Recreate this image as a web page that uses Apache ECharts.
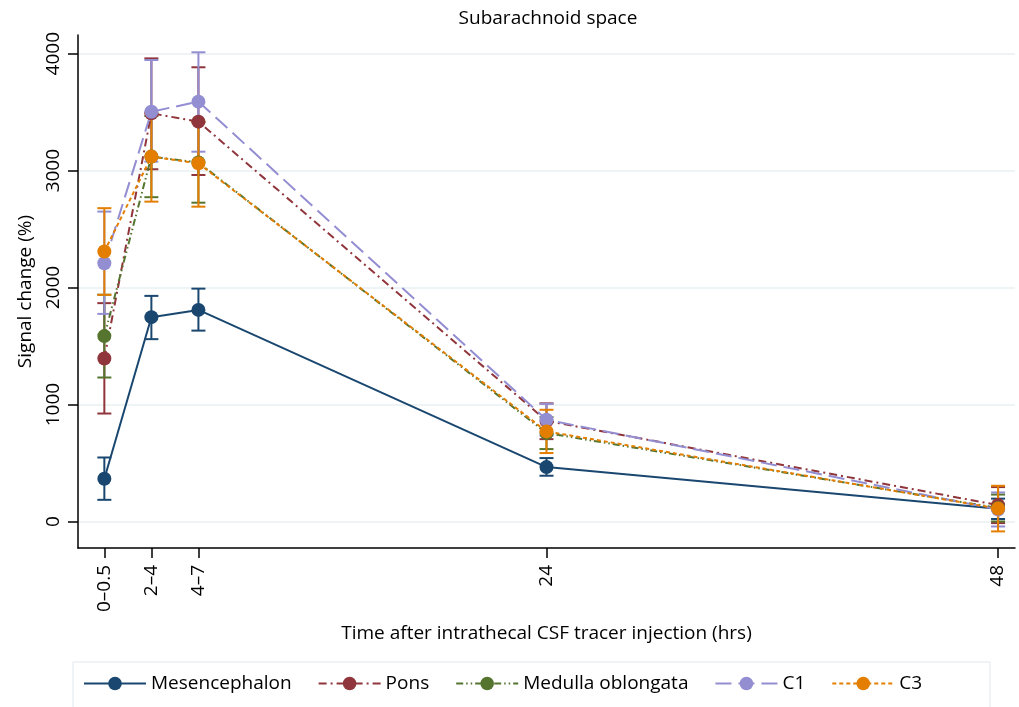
<!DOCTYPE html>
<html>
<head>
<meta charset="utf-8">
<title>Subarachnoid space</title>
<script src="https://cdn.jsdelivr.net/npm/echarts@6/dist/echarts.min.js"></script>
<style>
  html, body { margin: 0; padding: 0; background: #fff; }
</style>
</head>
<body>
<div id="main" style="width:1019px;height:707px;"></div>
<script type="text/javascript">
// time points (hrs) and the tick labels shown for them
var xVals = [0.5, 3, 5.5, 24, 48];
var xTickLabels = ['0\u20130.5', '2\u20134', '4\u20137', '24', '48'];
var yTicks = [0, 1000, 2000, 3000, 4000];

var names = ['Mesencephalon', 'Pons', 'Medulla oblongata', 'C1', 'C3'];

// mean signal change (%) and error bar ends
var mesMean = [365, 1747, 1809, 465, 108];
var mesLow = [185, 1559, 1632, 391, 21];
var mesHigh = [547, 1929, 1991, 542, 195];

var ponsMean = [1393, 3490, 3419, 860, 140];
var ponsLow = [923, 3012, 2963, 704, -14];
var ponsHigh = [1867, 3960, 3884, 1010, 294];

var medMean = [1585, 3120, 3070, 756, 115];
var medLow = [1231, 2773, 2726, 619, 0];
var medHigh = [1939, 3467, 3414, 892, 230];

var c1Mean = [2208, 3504, 3590, 870, 102];
var c1Low = [1775, 3077, 3162, 735, -43];
var c1High = [2650, 3946, 4012, 1006, 248];

var c3Mean = [2308, 3120, 3063, 770, 110];
var c3Low = [1938, 2735, 2692, 585, -85];
var c3High = [2679, 3490, 3419, 955, 305];

var means = [mesMean, ponsMean, medMean, c1Mean, c3Mean];
var lows = [mesLow, ponsLow, medLow, c1Low, c3Low];
var highs = [mesHigh, ponsHigh, medHigh, c1High, c3High];

var colors = ['#1a476f', '#90353b', '#55752f', '#938dd2', '#e37e00'];
var dashes = ['solid', [8, 4, 2, 4], [7, 3, 1.5, 3, 1.5, 3], [16, 7], [4, 3]];

var FONT = 'Open Sans';

// vertical bar with caps, drawn through the axes
function errRender(params, api) {
  var x = api.value(0);
  var p1 = api.coord([x, api.value(1)]);
  var p2 = api.coord([x, api.value(2)]);
  var w = 7;
  var st = { stroke: api.visual('color'), lineWidth: 2 };
  return {
    type: 'group',
    children: [
      { type: 'line', shape: { x1: p1[0], y1: p1[1], x2: p2[0], y2: p2[1] }, style: st },
      { type: 'line', shape: { x1: p1[0] - w, y1: p1[1], x2: p1[0] + w, y2: p1[1] }, style: st },
      { type: 'line', shape: { x1: p2[0] - w, y1: p2[1], x2: p2[0] + w, y2: p2[1] }, style: st }
    ]
  };
}

var series = [];
for (var i = 0; i < names.length; i++) {
  var errData = [], lineData = [];
  for (var j = 0; j < xVals.length; j++) {
    errData.push([xVals[j], lows[i][j], highs[i][j]]);
    lineData.push([xVals[j], means[i][j]]);
  }
  series.push({
    name: names[i] + ' CI',
    type: 'custom',
    renderItem: errRender,
    itemStyle: { color: colors[i] },
    encode: { x: 0, y: [1, 2] },
    silent: true,
    data: errData
  });
  series.push({
    name: names[i],
    type: 'line',
    symbol: 'circle',
    symbolSize: 14,
    showAllSymbol: true,
    itemStyle: { color: colors[i] },
    lineStyle: { color: colors[i], width: 2, type: dashes[i] },
    data: lineData
  });
}

var myChart = echarts.init(document.getElementById('main'));

var option = {
  animation: false,
  textStyle: { fontFamily: FONT },
  title: {
    text: 'Subarachnoid space',
    left: 543,
    textAlign: 'center',
    top: 4,
    textStyle: { fontFamily: FONT, fontSize: 19, fontWeight: 'normal', color: '#000' }
  },
  grid: { left: 78, right: 4, top: 35, bottom: 159, containLabel: false },
  xAxis: {
    type: 'value',
    min: -0.9,
    max: 48.9,
    name: 'Time after intrathecal CSF tracer injection (hrs)',
    nameLocation: 'middle',
    nameGap: 76,
    nameTextStyle: { fontFamily: FONT, fontSize: 19, color: '#000' },
    axisLine: { onZero: false, lineStyle: { color: '#000', width: 1.5 } },
    axisTick: { show: true, length: 10, customValues: xVals, lineStyle: { color: '#000', width: 1.5 } },
    axisLabel: {
      customValues: xVals,
      rotate: 90,
      margin: 17,
      fontSize: 19,
      color: '#000',
      fontFamily: FONT,
      formatter: function (v) {
        var k = xVals.indexOf(v);
        return k >= 0 ? xTickLabels[k] : '';
      }
    },
    splitLine: { show: false }
  },
  yAxis: {
    type: 'value',
    min: -227,
    max: 4160,
    name: 'Signal change (%)',
    nameLocation: 'middle',
    nameRotate: 90,
    nameGap: 43,
    nameTextStyle: { fontFamily: FONT, fontSize: 19, color: '#000' },
    axisLine: { show: true, onZero: false, lineStyle: { color: '#000', width: 1.5 } },
    axisTick: { show: true, length: 10, customValues: yTicks, lineStyle: { color: '#000', width: 1.5 } },
    axisLabel: {
      customValues: yTicks,
      rotate: 90,
      margin: 15,
      fontSize: 19,
      color: '#000',
      fontFamily: FONT,
      formatter: function (v) { return String(v); }
    },
    splitLine: { show: true, lineStyle: { color: '#e8f0f2', width: 1.5 } }
  },
  legend: {
    data: names,
    left: 83,
    top: 674,
    itemWidth: 62,
    itemHeight: 17,
    itemGap: 26,
    padding: 0,
    textStyle: { fontFamily: FONT, fontSize: 19, color: '#000' }
  },
  graphic: [{
    type: 'rect',
    shape: { x: 73, y: 662, width: 917, height: 60 },
    style: { fill: 'none', stroke: '#e0e8ec', lineWidth: 1 },
    silent: true
  }],
  series: series
};

myChart.setOption(option);
</script>
</body>
</html>
